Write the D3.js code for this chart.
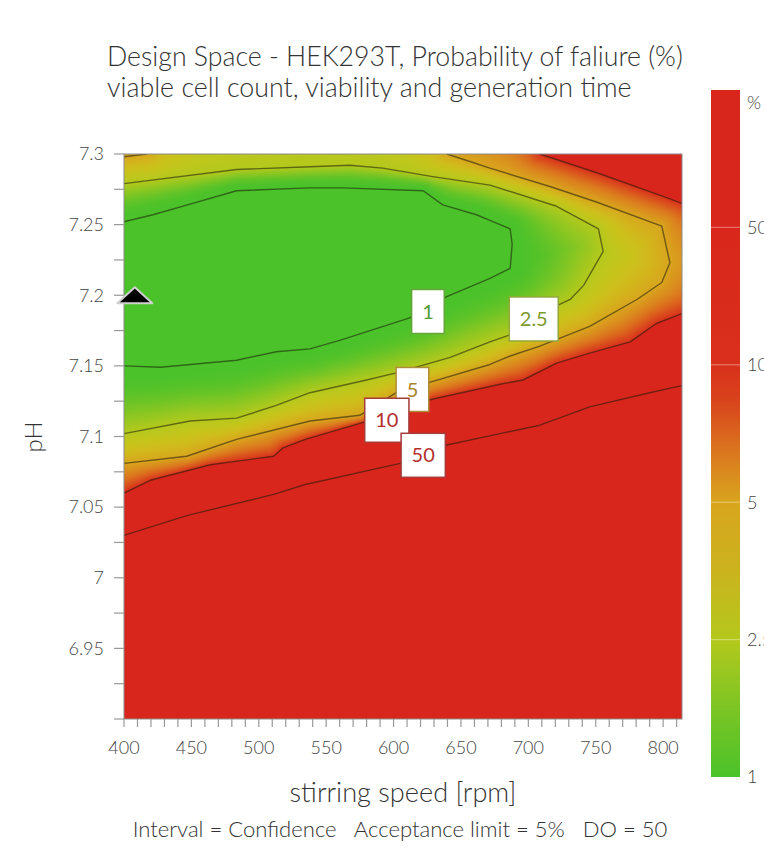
<!DOCTYPE html>
<html>
<head>
<meta charset="utf-8">
<script src="https://cdn.jsdelivr.net/npm/d3@7"></script>
<style>
  body { margin: 0; background: #fff; }
  svg { display: block; }
  text { font-family: Lato, "Open Sans", sans-serif; }
</style>
</head>
<body>
<svg id="chart" width="764" height="864"></svg>
<script>
// ---------------- DATA ----------------
const titleLines = ["Design Space - HEK293T, Probability of faliure (%)",
                    "viable cell count, viability and generation time"];
const xAxisTitle = "stirring speed [rpm]";
const yAxisTitle = "pH";
const footerText = "Interval = Confidence   Acceptance limit = 5%   DO = 50";

const xDomain = [400, 814];
const yDomain = [6.9, 7.3];
const xTickLabels = [400, 450, 500, 550, 600, 650, 700, 750, 800];
const yTickLabels = [6.95, 7, 7.05, 7.1, 7.15, 7.2, 7.25, 7.3];

// contour levels (% probability of failure)
const levels = [1, 2.5, 5, 10, 50];
const colorbarLabels = ["1", "2.5", "5", "10", "50", "%"];

// contour lines: [stirring speed rpm, pH]
const contour1 = [[400,7.252],[421.5,7.257],[451,7.265],[483.5,7.274],[538,7.276],[562.5,7.276],
  [622,7.274],[636.5,7.264],[661.5,7.257],[671.5,7.253],[686.5,7.247],[688,7.236],[686.5,7.219],
  [671.5,7.212],[639.5,7.199],[612,7.184],[560,7.168],[538,7.162],[513,7.160],[483.5,7.154],
  [427,7.149],[400,7.150]];
const contour2_5 = [[400,7.279],[483.5,7.289],[538,7.291],[567.5,7.292],[592,7.290],[629,7.284],
  [671.5,7.278],[721,7.263],[752,7.247],[755.5,7.231],[741,7.207],[731,7.197],[722,7.193],
  [686.5,7.172],[671.5,7.167],[642,7.156],[602,7.145],[580,7.140],[538,7.131],[513,7.122],
  [483.5,7.113],[449,7.111],[400,7.102]];
const contour5Corner = [[400,7.298],[417,7.300]];
const contour5 = [[639.5,7.300],[659,7.294],[671.5,7.290],[716,7.277],[750.5,7.266],[799,7.249],
  [805,7.223],[799,7.209],[780.5,7.197],[745.5,7.178],[708.5,7.164],[686.5,7.157],[671.5,7.151],
  [625.5,7.138],[602,7.131],[575,7.115],[538,7.111],[483.5,7.098],[446.5,7.086],[400,7.081]];
const contour10Upper = [[708.5,7.300],[753,7.286],[800,7.270],[814,7.265]];
const contour10Lower = [[400,7.060],[419.5,7.069],[464,7.080],[511,7.086],[518,7.092],[534.5,7.098],
  [577.5,7.110],[612,7.122],[627,7.126],[679,7.137],[696,7.140],[721,7.152],[745.5,7.159],
  [775.5,7.167],[795,7.180],[814,7.187]];
const contour50 = [[400,7.030],[446.5,7.044],[511,7.059],[534.5,7.066],[605,7.081],[639.5,7.094],
  [679,7.102],[708.5,7.108],[745.5,7.121],[790,7.131],[814,7.136]];

// contour label anchors [rpm, pH]
const contourLabels = [
  {text: "1",   level: 1,   rpm: 625.5, pH: 7.1885},
  {text: "2.5", level: 2.5, rpm: 704,   pH: 7.1832},
  {text: "5",   level: 5,   rpm: 614,   pH: 7.1333},
  {text: "10",  level: 10,  rpm: 595,   pH: 7.1115},
  {text: "50",  level: 50,  rpm: 622,   pH: 7.0867}
];
// set point marker
const setPoint = {rpm: 408, pH: 7.2};

// ---------------- STYLES ----------------
const levelColors = ["#4bc22a", "#b4c81c", "#d8a51d", "#d9301c", "#d9261c"];
const labelStyle = {
  1:   {text: "#559a35", border: "#66a63d"},
  2.5: {text: "#7d9a2e", border: "#93a83c"},
  5:   {text: "#a8852c", border: "#ad8c3c"},
  10:  {text: "#b3302c", border: "#a53c3a"},
  50:  {text: "#b3302c", border: "#a53c3a"}
};

// ---------------- LAYOUT ----------------
const M = {left: 124, right: 682, top: 154, bottom: 719};
const svg = d3.select("#chart");
const x = d3.scaleLinear().domain(xDomain).range([M.left, M.right]);
const y = d3.scaleLinear().domain(yDomain).range([M.bottom, M.top]);

svg.append("defs").append("clipPath").attr("id", "plotClip")
  .append("rect").attr("x", M.left).attr("y", M.top)
  .attr("width", M.right - M.left).attr("height", M.bottom - M.top);

// ---------------- FILL (canvas raster) ----------------
const W = M.right - M.left, H = M.bottom - M.top;
const mask = document.createElement("canvas");
mask.width = W; mask.height = H;
const mc = mask.getContext("2d", {willReadFrequently: true});
mc.translate(-M.left, -M.top);
function fillPoly(pts, v) {
  mc.beginPath();
  pts.forEach((p, i) => i ? mc.lineTo(x(p[0]), y(p[1])) : mc.moveTo(x(p[0]), y(p[1])));
  mc.closePath();
  mc.fillStyle = `rgb(${v},${v},${v})`;
  mc.fill();
}
mc.fillStyle = "rgb(200,200,200)";
mc.fillRect(M.left - 5, M.top - 5, W + 10, H + 10);
fillPoly([[xDomain[0], yDomain[1]], ...contour10Upper, ...contour10Lower.slice().reverse()], 150);
fillPoly([...contour5Corner, ...contour5], 100);
fillPoly(contour2_5, 50);
fillPoly(contour1, 0);
const md = mc.getImageData(0, 0, W, H).data;

function toSegs(lines) {
  const s = [];
  lines.forEach(l => {
    for (let i = 0; i < l.length - 1; i++) {
      s.push([x(l[i][0]), y(l[i][1]), x(l[i+1][0]), y(l[i+1][1])]);
    }
  });
  return s;
}
const S = [toSegs([contour1]), toSegs([contour2_5]), toSegs([contour5Corner, contour5]),
           toSegs([contour10Upper, contour10Lower])];
function dist(segs, px, py) {
  let m = Infinity;
  for (const s of segs) {
    const dx = s[2] - s[0], dy = s[3] - s[1];
    let t = ((px - s[0]) * dx + (py - s[1]) * dy) / (dx * dx + dy * dy);
    t = t < 0 ? 0 : (t > 1 ? 1 : t);
    const ex = s[0] + t * dx - px, ey = s[1] + t * dy - py;
    const d = ex * ex + ey * ey;
    if (d < m) m = d;
  }
  return Math.sqrt(m);
}
const bandInterp = [
  d3.interpolateRgbBasis([levelColors[0], levelColors[0], "#62c327", "#8cc722", levelColors[1]]),
  d3.interpolateRgbBasis([levelColors[1], "#cec51b", levelColors[2]]),
  d3.interpolateRgbBasis([levelColors[2], "#dc7f1e", levelColors[3]])
];
const out = document.createElement("canvas");
out.width = W; out.height = H;
const oc = out.getContext("2d");
const img = oc.createImageData(W, H);
const od = img.data;
const cGreen = d3.rgb(levelColors[0]), cRed = d3.rgb(levelColors[4]);
for (let j = 0; j < H; j++) {
  for (let i = 0; i < W; i++) {
    const k = (j * W + i) * 4;
    const band = Math.round(md[k] / 50);
    let c;
    if (band <= 0) c = cGreen;
    else if (band >= 4) c = cRed;
    else {
      const px = M.left + i + 0.5, py = M.top + j + 0.5;
      const a = dist(S[band - 1], px, py), b = dist(S[band], px, py);
      c = d3.rgb(bandInterp[band - 1](a / (a + b + 1e-9)));
    }
    od[k] = c.r; od[k+1] = c.g; od[k+2] = c.b; od[k+3] = 255;
  }
}
oc.putImageData(img, 0, 0);

const plot = svg.append("g").attr("clip-path", "url(#plotClip)");
plot.append("image").attr("x", M.left).attr("y", M.top)
  .attr("width", W).attr("height", H)
  .attr("preserveAspectRatio", "none")
  .attr("href", out.toDataURL());

// contour lines
const line = d3.line().x(d => x(d[0])).y(d => y(d[1]));
[contour1, contour2_5, contour5Corner, contour5, contour10Upper, contour10Lower, contour50].forEach(c => {
  plot.append("path").attr("d", line(c))
    .attr("fill", "none").attr("stroke", "#1a1a0a")
    .attr("stroke-opacity", 0.55).attr("stroke-width", 1.4)
    .attr("stroke-linejoin", "round");
});

// frame
svg.append("rect").attr("x", M.left).attr("y", M.top)
  .attr("width", W).attr("height", H)
  .attr("fill", "none").attr("stroke", "#8c8c8c").attr("stroke-width", 1);

// set point marker
svg.append("path")
  .attr("transform", `translate(${x(setPoint.rpm)},${y(setPoint.pH)})`)
  .attr("d", "M0,-8L17.5,8L-17.5,8Z")
  .attr("fill", "#000").attr("stroke", "#d0d0d0").attr("stroke-width", 2)
  .attr("stroke-linejoin", "round");

// contour labels
contourLabels.forEach(L => {
  const st = labelStyle[L.level];
  const g = svg.append("g").attr("transform", `translate(${x(L.rpm)},${y(L.pH)})`);
  const r = g.append("rect");
  const t = g.append("text").attr("text-anchor", "middle").attr("dy", "0.36em")
    .attr("font-family", "'Open Sans', Lato, sans-serif")
    .attr("font-size", 20).attr("fill", st.text).text(L.text);
  const w = t.node().getComputedTextLength() + 21, h = 44;
  r.attr("x", -w / 2).attr("y", -h / 2).attr("width", w).attr("height", h)
    .attr("fill", "#fff").attr("stroke", st.border).attr("stroke-width", 1.5);
});

// ---------------- AXES ----------------
const axisG = svg.append("g");
// y ticks
const yMinor = d3.range(0, 17).map(i => 6.9 + i * 0.025);
axisG.selectAll(".ytick").data(yMinor).join("line")
  .attr("x1", M.left - 10).attr("x2", M.left)
  .attr("y1", d => y(d)).attr("y2", d => y(d))
  .attr("stroke", "#999").attr("stroke-width", 1.2);
axisG.selectAll(".ylab").data(yTickLabels).join("text")
  .attr("x", 104).attr("y", d => y(d)).attr("dy", "0.35em")
  .attr("text-anchor", "end").attr("font-size", 18).attr("fill", "#444")
  .attr("font-weight", 300)
  .text(d => String(d));
// x ticks
const xMinor = d3.range(0, 42).map(i => 400 + i * 10);
axisG.selectAll(".xtick").data(xMinor).join("line")
  .attr("x1", d => x(d)).attr("x2", d => x(d))
  .attr("y1", M.bottom).attr("y2", M.bottom + 8)
  .attr("stroke", "#999").attr("stroke-width", 1.2);
axisG.selectAll(".xlab").data(xTickLabels).join("text")
  .attr("x", d => x(d)).attr("y", 754)
  .attr("text-anchor", "middle").attr("font-size", 18).attr("fill", "#444")
  .attr("font-weight", 300)
  .text(d => String(d));

function fitText(sel, target, base) {
  sel.attr("font-size", base);
  const len = sel.node().getComputedTextLength();
  sel.attr("font-size", base * target / len);
}

// axis titles
fitText(svg.append("text").attr("x", 403).attr("y", 802).attr("text-anchor", "middle")
  .attr("fill", "#333").attr("font-weight", 300).text(xAxisTitle), 227, 21);
svg.append("text").attr("transform", "translate(42,437) rotate(-90)")
  .attr("text-anchor", "middle").attr("font-size", 24).attr("fill", "#333")
  .attr("font-weight", 300).text(yAxisTitle);

// footer
fitText(svg.append("text").attr("x", 400).attr("y", 837).attr("text-anchor", "middle")
  .style("white-space", "pre").attr("fill", "#333").attr("font-weight", 300)
  .text(footerText), 535, 18);

// title
fitText(svg.append("text").attr("x", 107).attr("y", 66).attr("fill", "#333")
  .attr("font-weight", 300).text(titleLines[0]), 576, 22);
fitText(svg.append("text").attr("x", 107).attr("y", 97).attr("fill", "#333")
  .attr("font-weight", 300).text(titleLines[1]), 525, 22);

// ---------------- COLORBAR ----------------
const cb = {x: 711, w: 29, top: 90, bottom: 777};
const cbY = d3.scaleLinear().domain([0, 5]).range([cb.bottom, cb.top]);
const grad = svg.select("defs").append("linearGradient").attr("id", "cbGrad")
  .attr("x1", 0).attr("y1", 1).attr("x2", 0).attr("y2", 0);
const gStops = [
  [0, levelColors[0]], [0.1, "#7cc524"], [0.2, levelColors[1]], [0.3, "#cbb31e"],
  [0.4, levelColors[2]], [0.45, "#da861f"], [0.55, "#d9421c"], [0.6, levelColors[3]],
  [0.8, levelColors[4]], [1, levelColors[4]]
];
gStops.forEach(s => grad.append("stop").attr("offset", s[0]).attr("stop-color", s[1]));
svg.append("rect").attr("x", cb.x).attr("y", cb.top).attr("width", cb.w)
  .attr("height", cb.bottom - cb.top).attr("fill", "url(#cbGrad)");
svg.selectAll(".cbsep").data(d3.range(1, 5)).join("line")
  .attr("x1", cb.x).attr("x2", cb.x + cb.w)
  .attr("y1", d => cbY(d)).attr("y2", d => cbY(d))
  .attr("stroke", "#fff").attr("stroke-opacity", 0.35).attr("stroke-width", 1.2);
svg.selectAll(".cblab").data(colorbarLabels).join("text")
  .attr("x", 747).attr("y", (d, i) => i < 5 ? cbY(i) : cbY(5) + 13)
  .attr("dy", "0.35em").attr("font-size", 18).attr("fill", "#444")
  .attr("font-weight", 300).text(d => d);
</script>
</body>
</html>
